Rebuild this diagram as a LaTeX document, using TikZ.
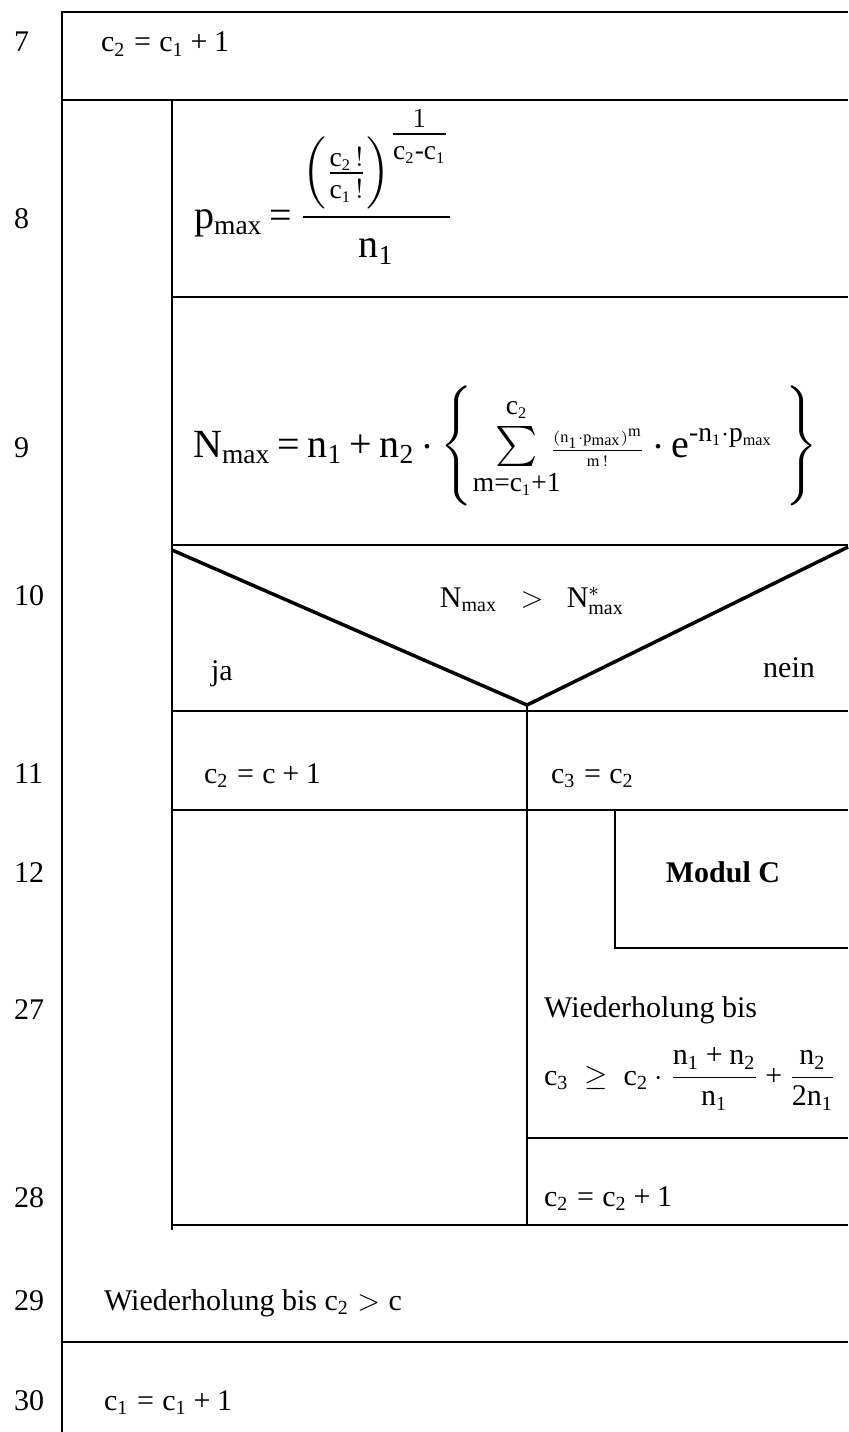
\documentclass[tikz,border=0pt]{standalone}
\usepackage{amsmath}
\usepackage{amssymb}
\usepackage{mathtools}
\usepackage{fontspec}
\setmainfont{Liberation Serif}
\setmathrm{Liberation Serif}
\DeclareMathSizes{16}{16}{11}{6.5}
\newcommand{\eq}{\mathrel{\text{=}}}
\newcommand{\pl}{\mathbin{\text{+}}}
\newcommand{\mi}{\text{-}}
\newcommand{\tight}{\thickmuskip=3mu\relax\medmuskip=3mu\relax}
\newcommand{\pmax}{\mathrm{p}_{\mathrm{max}}}
\newcommand{\Nmax}{\mathrm{N}_{\mathrm{max}}}

\begin{document}
\begin{tikzpicture}[x=0.4pt, y=-0.4pt, line width=0.9pt,
    nr/.style={anchor=base west, inner sep=0pt, font=\fontsize{12}{14}\selectfont},
    txt/.style={anchor=base west, inner sep=0pt, font=\fontsize{12}{14}\selectfont},
    big/.style={anchor=base west, inner sep=0pt, font=\fontsize{16}{19}\selectfont}]
  \useasboundingbox (0,0) rectangle (848,1432);
  \foreach \n/\y in {7/52, 8/228, 9/457, 10/605, 11/783, 12/882, 27/1019, 28/1207, 29/1310, 30/1410}
    \node[nr] (nr\n) at (13,\y) {\n};
  \node[txt] (s7) at (100,52) {$\mathrm{c_2 \eq c_1 \pl 1}$};
  \node[big] (s8) at (193,228) {$\tight\displaystyle \pmax \eq \frac{\Bigl(\frac{\mathrm{c_2\,!}}{\mathrm{c_1\,!}}\Bigr)^{\tfrac{1}{\mathrm{c_2 \mi c_1}}}}{\mathrm{n_1}}$};
  \node[big] (s9) at (192,457) {$\tight\displaystyle \Nmax \eq \mathrm{n_1 \pl n_2} \cdot \left\{\hspace{9pt} \textstyle\sum\limits_{\mathclap{\mathrm{m \eq c_1 \pl 1}}}^{\mathrm{c_2}\rule[-3pt]{0pt}{3pt}} \hspace{2pt} {\scriptstyle\frac{(\mathrm{n_1}\cdot\pmax)^{\mathrm{m}}}{\mathrm{m\,!}}} \cdot \mathrm{e}^{\mi\mathrm{n_1}\cdot\pmax} \hspace{5pt}\rule[-22pt]{0pt}{52pt}\right\}$};
  \node[txt, anchor=base] (s10) at (532,607) {$\Nmax\ \ >\ \ \mathrm{N}^{*}_{\mathrm{max}}$};
  \node[txt] (ja) at (210,680) {ja};
  \node[txt, anchor=base east] (nein) at (816,677) {nein};
  \node[txt] (s11a) at (203,783) {$\mathrm{c_2 \eq c \pl 1}$};
  \node[txt] (s11b) at (550,783) {$\mathrm{c_3 \eq c_2}$};
  \node[txt, anchor=base, font=\fontsize{12}{14}\selectfont\bfseries] (modc) at (723,882) {Modul C};
  \node[txt] (s27a) at (543,1017) {Wiederholung bis};
  \node[txt] (s27b) at (543,1085) {$\mathrm{c_3\ \geq\ c_2 \cdot \dfrac{n_1 \pl n_2}{n_1} \pl \dfrac{n_2}{2n_1}}$};
  \node[txt] (s28) at (543,1206) {$\mathrm{c_2 \eq c_2 \pl 1}$};
  \node[txt] (s29) at (103,1310) {Wiederholung bis $\mathrm{c_2 > c}$};
  \node[txt] (s30) at (103,1410) {$\mathrm{c_1 \eq c_1 \pl 1}$};
  \coordinate (apex) at (527,705);
  \draw (62,1432) -- (62,12) -- (848,12);
  \draw (62,100) -- (848,100);
  \draw (172,100) -- (172,1230);
  \draw (172,297) -- (848,297);
  \draw (172,545) -- (848,545);
  \draw[line width=1.4pt] (172,550) -- (apex) -- (848,547);
  \draw (172,711) -- (848,711);
  \draw (apex) -- (527,1225);
  \draw (172,810) -- (848,810);
  \draw (615,810) -- (615,948) -- (848,948);
  \draw (527,1138) -- (848,1138);
  \draw (172,1225) -- (848,1225);
  \draw (62,1342) -- (848,1342);
\end{tikzpicture}
\end{document}
